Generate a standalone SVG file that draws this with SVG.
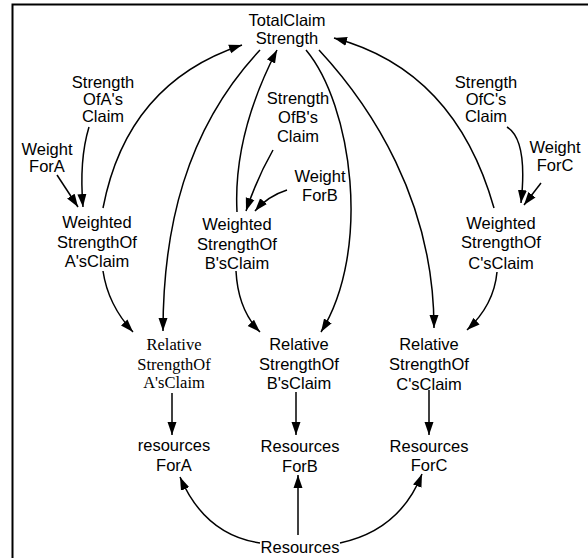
<svg xmlns="http://www.w3.org/2000/svg" width="588" height="558" viewBox="0 0 588 558">
<style>
  text { font-family: "Liberation Sans", Arial, sans-serif; font-size: 16.5px; fill: #000; text-anchor: middle; }
  text.serif { font-family: "Liberation Serif", "Times New Roman", serif; font-size: 16.5px; }
  .c { fill: none; stroke: #000; stroke-width: 1.5; marker-end: url(#ah); }
</style>
<defs>
  <marker id="ah" markerUnits="userSpaceOnUse" markerWidth="14" markerHeight="10" refX="13" refY="4.5" orient="auto" viewBox="0 0 14 9">
    <path d="M0,0 L13,4.5 L0,9 z" fill="#000"/>
  </marker>
</defs>
<rect x="12.5" y="4.5" width="700" height="700" fill="#fff" stroke="#000" stroke-width="2"/>

<g id="connectors">
  <path class="c" d="M57,175 L78,207"/>
  <path class="c" d="M89,127 Q79,160 83,207"/>
  <path class="c" d="M103,208 Q127,83 242,45"/>
  <path class="c" d="M260,50 C185,130 163,230 163,331"/>
  <path class="c" d="M103,271 Q108,305 133,332"/>
  <path class="c" d="M273,150 Q257,178 246,211"/>
  <path class="c" d="M287,190 Q268,196 255,211"/>
  <path class="c" d="M237,212 Q233,135 277,50"/>
  <path class="c" d="M306,50 C352,105 372,250 321,332"/>
  <path class="c" d="M319,50 C370,105 434,200 434,328"/>
  <path class="c" d="M236,271 Q238,310 260,332"/>
  <path class="c" d="M494,208 Q455,70 334,38"/>
  <path class="c" d="M507,127 Q528,140 521,203"/>
  <path class="c" d="M541,183 L524,205"/>
  <path class="c" d="M497,272 Q494,305 467,330"/>
  <path class="c" d="M172,393 L172,435"/>
  <path class="c" d="M296,392 L296,435"/>
  <path class="c" d="M429,390 L429,435"/>
  <path class="c" d="M260,543 Q205,535 180,477"/>
  <path class="c" d="M298,535 L298,475"/>
  <path class="c" d="M340,543 Q400,530 422,474"/>
</g>

<g id="TotalClaimStrength"><text x="287" y="26">TotalClaim</text><text x="287" y="44">Strength</text></g>
<g id="StrengthOfAsClaim"><text x="103" y="88">Strength</text><text x="103" y="105">OfA's</text><text x="103" y="122">Claim</text></g>
<g id="WeightForA"><text x="47" y="155">Weight</text><text x="47" y="172">ForA</text></g>
<g id="WeightedStrengthOfAsClaim"><text x="97" y="228">Weighted</text><text x="97" y="248">StrengthOf</text><text x="97" y="267">A'sClaim</text></g>
<g id="StrengthOfBsClaim"><text x="298" y="104">Strength</text><text x="298" y="123">OfB's</text><text x="298" y="142">Claim</text></g>
<g id="WeightForB"><text x="320" y="182">Weight</text><text x="320" y="201">ForB</text></g>
<g id="WeightedStrengthOfBsClaim"><text x="237" y="230">Weighted</text><text x="237" y="250">StrengthOf</text><text x="237" y="269">B'sClaim</text></g>
<g id="StrengthOfCsClaim"><text x="486" y="88">Strength</text><text x="486" y="105">OfC's</text><text x="486" y="122">Claim</text></g>
<g id="WeightForC"><text x="555" y="153">Weight</text><text x="555" y="171">ForC</text></g>
<g id="WeightedStrengthOfCsClaim"><text x="501" y="229">Weighted</text><text x="501" y="248">StrengthOf</text><text x="501" y="269">C'sClaim</text></g>
<g id="RelativeStrengthOfAsClaim"><text class="serif" x="174" y="350">Relative</text><text class="serif" x="174" y="370">StrengthOf</text><text class="serif" x="174" y="388">A'sClaim</text></g>
<g id="RelativeStrengthOfBsClaim"><text x="299" y="350">Relative</text><text x="299" y="370">StrengthOf</text><text x="299" y="389">B'sClaim</text></g>
<g id="RelativeStrengthOfCsClaim"><text x="429" y="350">Relative</text><text x="429" y="370">StrengthOf</text><text x="429" y="390">C'sClaim</text></g>
<g id="resourcesForA"><text x="174" y="451">resources</text><text x="174" y="471">ForA</text></g>
<g id="ResourcesForB"><text x="300" y="452">Resources</text><text x="300" y="472">ForB</text></g>
<g id="ResourcesForC"><text x="429" y="452">Resources</text><text x="429" y="471">ForC</text></g>
<g id="Resources"><text x="300" y="553">Resources</text></g>
</svg>
